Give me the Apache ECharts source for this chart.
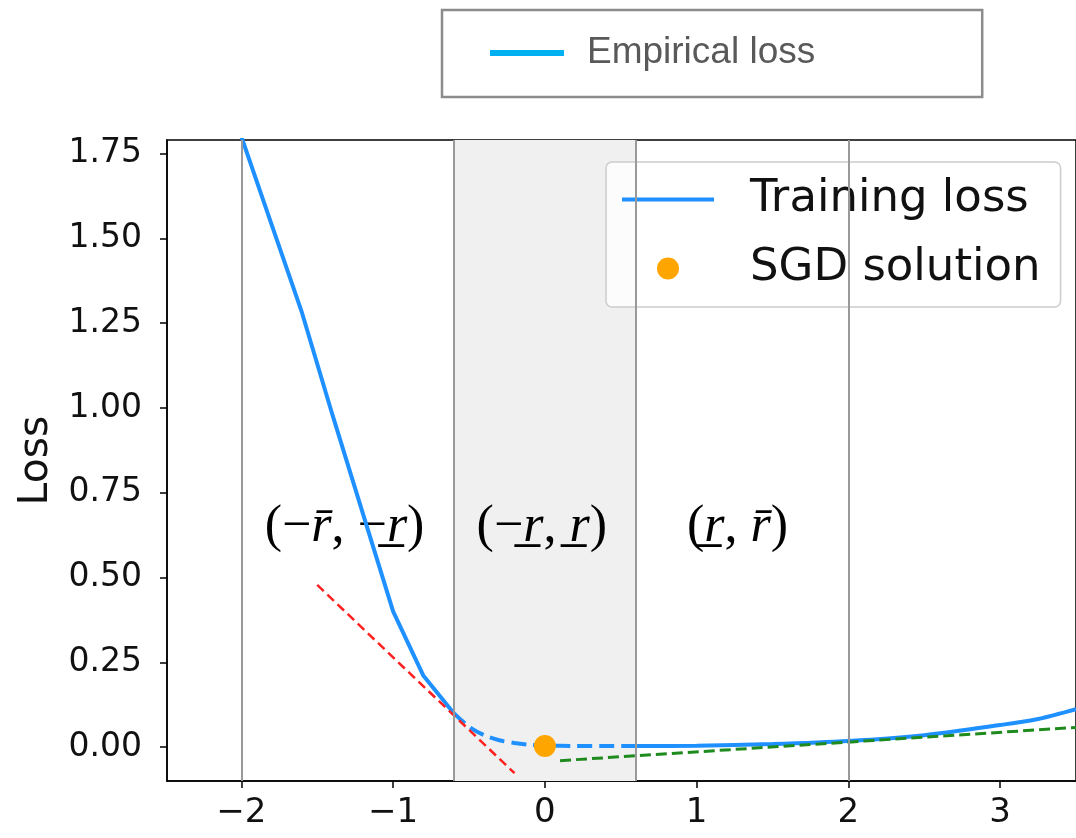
<!DOCTYPE html>
<html>
<head>
<meta charset="utf-8">
<title>Loss</title>
<script src="https://cdn.jsdelivr.net/npm/echarts@6/dist/echarts.min.js"></script>
<style>
  html, body { margin: 0; padding: 0; background: #fff; }
  #chart { width: 1076px; height: 838px; }
</style>
</head>
<body>
<div id="chart"></div>
<script>
// training loss, split in the three pieces the figure draws
const leftX = [-2.0, -1.8, -1.6, -1.4, -1.2, -1.0, -0.8, -0.6];
const leftY = [1.80, 1.54, 1.28, 0.98, 0.69, 0.40, 0.21, 0.10];
const midX = [-0.6, -0.5, -0.4, -0.3, -0.2, -0.1, 0.0, 0.2, 0.4, 0.6];
const midY = [0.10, 0.06, 0.035, 0.02, 0.012, 0.007, 0.005, 0.003, 0.003, 0.003];
const rightX = [0.6, 1.0, 1.5, 2.0, 2.5, 3.0, 3.25, 3.5];
const rightY = [0.003, 0.004, 0.009, 0.018, 0.035, 0.065, 0.083, 0.112];

// tangent lines
const redX = [-1.5, -0.2];
const redY = [0.478, -0.077];
const greenX = [0.1, 3.5];
const greenY = [-0.040, 0.058];

const sgdPoint = [0, 0.003];

// regions
const boundaries = [-2, -0.6, 0.6, 2];
const shaded = [-0.6, 0.6];
const labelX = [-1.32, -0.02, 1.27];
const labelY = [0.648, 0.648, 0.648];
const labelText = [
  '{n|(−}{i|r\u0304}{n|, −}{i|r\u0332}{n|)}',
  '{n|(−}{i|r\u0332}{n|, }{i|r\u0332}{n|)}',
  '{n|(}{i|r\u0332}{n|, }{i|r\u0304}{n|)}'
];

const xTicks = [-2, -1, 0, 1, 2, 3];
const yTicks = [0, 0.25, 0.5, 0.75, 1.0, 1.25, 1.5, 1.75];

const BLUE = '#1e90ff';
const zip = (xs, ys) => xs.map((x, i) => [x, ys[i]]);

const chart = echarts.init(document.getElementById('chart'));

const option = {
  animation: false,
  backgroundColor: '#fff',
  legend: [
    {
      data: [{ name: 'Empirical loss', icon: 'rect' }],
      left: 442,
      top: 10,
      itemWidth: 74,
      itemHeight: 6,
      padding: [23, 167, 24, 48],
      borderColor: '#8c8c8c',
      borderWidth: 2.5,
      textStyle: {
        fontFamily: 'Liberation Sans',
        fontSize: 37,
        lineHeight: 40,
        color: '#595959',
        padding: [0, 0, 0, 18]
      }
    },
    {
      orient: 'vertical',
      data: [
        { name: 'Training loss', icon: 'path://M0,0L92,0L92,4L0,4Z' },
        { name: 'SGD solution', icon: 'circle' }
      ],
      left: 606,
      top: 162,
      itemWidth: 92,
      itemHeight: 22,
      itemGap: 24,
      padding: [15, 20, 16, 16],
      backgroundColor: 'rgba(255,255,255,0.8)',
      borderColor: '#cccccc',
      borderWidth: 1.5,
      borderRadius: 6,
      textStyle: {
        fontFamily: 'DejaVu Sans',
        fontSize: 45,
        lineHeight: 44,
        color: '#111',
        padding: [0, 0, 0, 31]
      }
    }
  ],
  grid: {
    left: 167,
    right: -2,
    top: 140,
    bottom: 57,
    show: true,
    borderColor: '#000',
    borderWidth: 1.5
  },
  xAxis: {
    type: 'value',
    min: -2.49,
    max: 3.5,
    splitLine: { show: false },
    axisLine: { onZero: false, lineStyle: { color: '#000', width: 1.5 } },
    axisTick: { show: true, length: 7, lineStyle: { color: '#000', width: 1.5 }, customValues: xTicks },
    axisLabel: {
      customValues: xTicks,
      margin: 15,
      fontFamily: 'DejaVu Sans',
      fontSize: 34,
      color: '#111',
      formatter: v => String(v).replace('-', '−')
    }
  },
  yAxis: {
    type: 'value',
    min: -0.1,
    max: 1.79,
    name: 'Loss',
    nameLocation: 'middle',
    nameGap: 110,
    nameTextStyle: { fontFamily: 'DejaVu Sans', fontSize: 41, color: '#111' },
    splitLine: { show: false },
    axisLine: { show: true, onZero: false, lineStyle: { color: '#000', width: 1.5 } },
    axisTick: { show: true, length: 7, lineStyle: { color: '#000', width: 1.5 }, customValues: yTicks },
    axisLabel: {
      customValues: yTicks,
      margin: 25,
      fontFamily: 'DejaVu Sans',
      fontSize: 33,
      color: '#111',
      formatter: v => v.toFixed(2)
    }
  },
  series: [
    {
      name: 'Empirical loss',
      type: 'line',
      data: [],
      itemStyle: { color: '#00b0f0' },
      lineStyle: { color: '#00b0f0' }
    },
    {
      name: 'shade',
      type: 'scatter',
      data: [],
      z: 1,
      silent: true,
      markArea: {
        silent: true,
        itemStyle: { color: '#f0f0f0', borderWidth: 0 },
        data: [[{ xAxis: shaded[0] }, { xAxis: shaded[1] }]]
      }
    },
    {
      name: 'bounds',
      type: 'scatter',
      data: [],
      z: 2,
      silent: true,
      markLine: {
        silent: true,
        symbol: 'none',
        label: { show: false },
        lineStyle: { color: '#999', width: 2, type: 'solid' },
        data: boundaries.map(b => ({ xAxis: b }))
      }
    },
    {
      name: 'labels',
      type: 'scatter',
      z: 2,
      symbolSize: 0,
      silent: true,
      itemStyle: { color: '#000', opacity: 1 },
      data: labelX.map((x, i) => ({ value: [x, labelY[i]], name: labelText[i] })),
      label: {
        show: true,
        position: 'inside',
        color: '#000',
        opacity: 1,
        formatter: p => p.name,
        rich: {
          n: { fontFamily: 'Liberation Serif', fontSize: 52, color: '#000' },
          i: { fontFamily: 'Liberation Serif', fontStyle: 'italic', fontSize: 52, color: '#000' }
        }
      }
    },
    {
      name: 'Training loss',
      type: 'line',
      z: 3,
      symbol: 'none',
      data: zip(leftX, leftY),
      itemStyle: { color: BLUE },
      lineStyle: { color: BLUE, width: 4 }
    },
    {
      name: 'Training loss',
      type: 'line',
      z: 3,
      symbol: 'none',
      smooth: 0.3,
      data: zip(midX, midY),
      itemStyle: { color: BLUE },
      lineStyle: { color: BLUE, width: 4, type: [15, 7] }
    },
    {
      name: 'Training loss',
      type: 'line',
      z: 3,
      symbol: 'none',
      smooth: 0.3,
      data: zip(rightX, rightY),
      itemStyle: { color: BLUE },
      lineStyle: { color: BLUE, width: 4 }
    },
    {
      name: 'red tangent',
      type: 'line',
      z: 4,
      symbol: 'none',
      data: zip(redX, redY),
      lineStyle: { color: '#ff2020', width: 2.5, type: [9, 5] }
    },
    {
      name: 'green tangent',
      type: 'line',
      z: 4,
      symbol: 'none',
      data: zip(greenX, greenY),
      lineStyle: { color: '#1f8b1f', width: 3, type: [11, 5] }
    },
    {
      name: 'SGD solution',
      type: 'scatter',
      z: 5,
      symbolSize: 22,
      data: [sgdPoint],
      itemStyle: { color: '#ffa500', opacity: 1 }
    }
  ]
};

chart.setOption(option);
</script>
</body>
</html>
